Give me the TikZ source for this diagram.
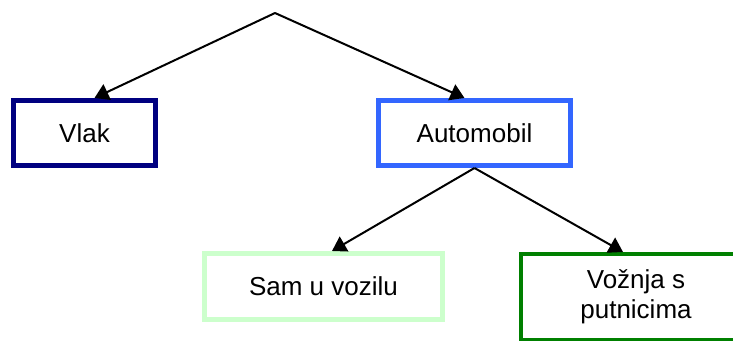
\documentclass[tikz,border=0pt]{standalone}
\usepackage{fontspec}
\setmainfont{Liberation Sans}
\usetikzlibrary{arrows.meta}
\begin{document}
\begin{tikzpicture}[x=1pt,y=-1pt,
  box/.style={draw,line width=5pt,fill=white,inner sep=0pt,align=center,
    font=\fontsize{26}{30}\selectfont},
  arr/.style={line width=2pt,-{Triangle[length=14pt,width=17pt]}}]
  % colors
  \definecolor{kNavy}{rgb}{0.0,0.0,0.5}
  \definecolor{kBlue}{rgb}{0.2,0.4,1.0}
  \definecolor{kMint}{rgb}{0.8,1.0,0.8}
  \definecolor{kGreen}{rgb}{0.0,0.5,0.0}
  % frame
  \useasboundingbox (0,0) rectangle (733,340);
  % boxes
  \coordinate (top) at (275,13);
  \node[box,draw=kNavy,minimum width=142pt,minimum height=65pt] (vlak) at (84.5,133) {Vlak};
  \node[box,draw=kBlue,minimum width=192pt,minimum height=65pt] (auto) at (474.5,133) {Automobil};
  \node[box,draw=kMint,minimum width=238pt,minimum height=66pt] (sam) at (323.5,286.5) {Sam u vozilu};
  \node[box,draw=none,outer sep=0pt,minimum width=230pt,minimum height=86pt] (putn) at (636,297) {Vožnja s\\putnicima};
  % open border, cut by the page edge
  \draw[kGreen,line width=4pt] (733,254) -- (putn.north west) -- (putn.south west) -- (733,340);
  % arrows
  \draw[arr] (top) -- ([xshift=10]vlak.north);
  \draw[arr] (top) -- ([xshift=-10]auto.north);
  \draw[arr] (auto.south) -- ([xshift=8.5]sam.north);
  \draw[arr] (auto.south) -- ([xshift=-13,yshift=2]putn.north);
\end{tikzpicture}
\end{document}
